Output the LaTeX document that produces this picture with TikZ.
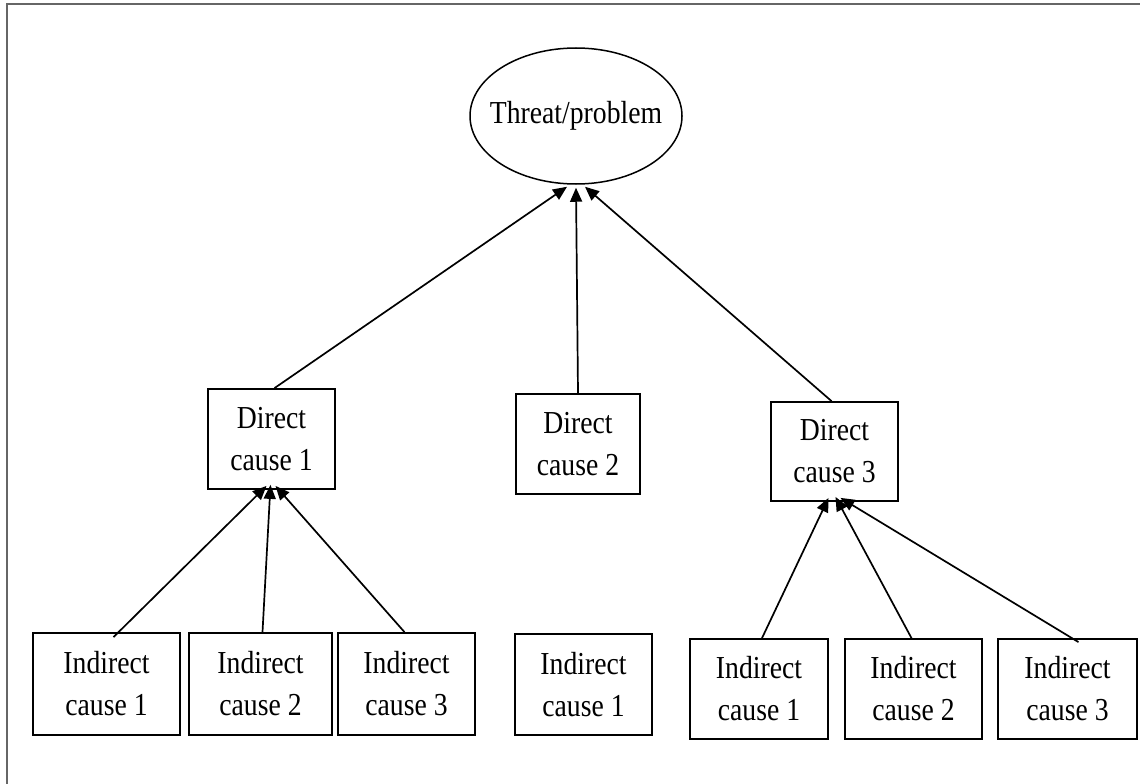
\documentclass[tikz,border=0pt]{standalone}
\usepackage{fontspec}
\setmainfont{Liberation Serif}[FakeStretch=0.865]
\usetikzlibrary{shapes.geometric,arrows.meta}
\begin{document}
\begin{tikzpicture}[x=1pt,y=-1pt,
  every node/.style={font=\fontsize{32}{42}\selectfont, text=black, align=center, inner sep=0pt},
  causebox/.style={draw=black, line width=1.8pt, rectangle, fill=white},
  goal/.style={draw=black, line width=1.5pt, ellipse, minimum width=212pt, minimum height=136pt},
  link/.style={draw=black, line width=1.7pt, -{Triangle[length=14pt,width=12pt]}}]
\useasboundingbox (0,0) rectangle (1140,784);
\fill[white] (0,0) rectangle (1140,784);
% page frame
\draw[black!60, line width=1.6pt] (7,784) -- (7,4) -- (1140,4);

% top problem (zero-width label so the ellipse keeps its set size)
\node[goal] (top) at (576,116) {\makebox[0pt]{Threat/problem}};

% direct causes
\node[causebox, minimum width=127pt, minimum height=100pt] (dc1) at (271.5,439) {Direct\\cause 1};
\node[causebox, minimum width=124pt, minimum height=100pt] (dc2) at (578,444) {Direct\\cause 2};
\node[causebox, minimum width=127pt, minimum height=99pt] (dc3) at (834.5,451.5) {Direct\\cause 3};

% indirect causes
\node[causebox, minimum width=147pt, minimum height=102pt] (ic1) at (106.5,684) {Indirect\\cause 1};
\node[causebox, minimum width=143pt, minimum height=102pt] (ic2) at (260.5,684) {Indirect\\cause 2};
\node[causebox, minimum width=137pt, minimum height=102pt] (ic3) at (406.5,684) {Indirect\\cause 3};
\node[causebox, minimum width=137pt, minimum height=101pt] (icm) at (583.5,684.5) {Indirect\\cause 1};
\node[causebox, minimum width=138pt, minimum height=100pt] (icr1) at (759,689) {Indirect\\cause 1};
\node[causebox, minimum width=137pt, minimum height=100pt] (icr2) at (913.5,689) {Indirect\\cause 2};
\node[causebox, minimum width=139pt, minimum height=100pt] (icr3) at (1067.5,689) {Indirect\\cause 3};

% direct causes to the problem
\draw[link] ([xshift=3pt]dc1.north) -- ([xshift=-9pt,yshift=-2pt]top.south);
\draw[link] (dc2.north) -- ([yshift=-3pt]top.south);
\draw[link] ([xshift=-3pt]dc3.north) -- ([xshift=9pt,yshift=-2pt]top.south);

% indirect causes to direct causes
\draw[link] ([xshift=7pt,yshift=-5pt]ic1.north) -- ([xshift=-5pt,yshift=4pt]dc1.south);
\draw[link] ([xshift=2pt]ic2.north) -- ([xshift=-1pt,yshift=5pt]dc1.south);
\draw[link] ([xshift=-2pt]ic3.north) -- ([xshift=4pt,yshift=4pt]dc1.south);
\draw[link] ([xshift=3pt]icr1.north) -- ([xshift=-6pt,yshift=4pt]dc3.south);
\draw[link] ([xshift=-2pt]icr2.north) -- ([xshift=1pt,yshift=5pt]dc3.south);
\draw[link] ([xshift=11pt,yshift=-4pt]icr3.north) -- ([xshift=6pt,yshift=4pt]dc3.south);
\end{tikzpicture}
\end{document}
